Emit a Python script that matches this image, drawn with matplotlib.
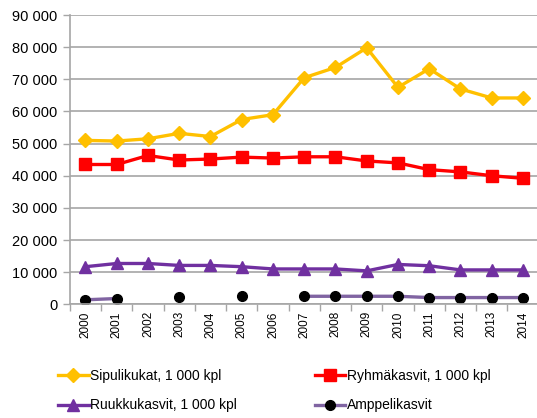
import numpy as np
import matplotlib.pyplot as plt

plt.rcParams['font.family'] = ['Liberation Sans', 'DejaVu Sans']

years = list(range(2000, 2015))
sipulikukat = [51000, 50800, 51500, 53200, 52200, 57500, 59000, 70500,
               73700, 79800, 67500, 73300, 67000, 64200, 64200]
ryhmakasvit = [43500, 43500, 46300, 44900, 45200, 45800, 45500, 45900,
               45900, 44600, 44000, 41900, 41200, 40000, 39200]
ruukkukasvit = [11700, 12700, 12700, 12100, 12100, 11700, 11000, 11000,
                11000, 10400, 12400, 12000, 10700, 10700, 10700]
amppelikasvit = [1400, 1800, np.nan, 2200, np.nan, 2600, np.nan, 2500,
                 2500, 2500, 2500, 2100, 2100, 2100, 2100]

fig = plt.figure(figsize=(5.37, 4.18), dpi=100)
ax = fig.add_axes([0.130, 0.272, 0.873, 0.692])

x = np.arange(len(years))
h1, = ax.plot(x, sipulikukat, color='#FFC000', lw=2.4, marker='D', ms=7,
              label='Sipulikukat, 1 000 kpl')
h2, = ax.plot(x, ryhmakasvit, color='#FF0000', lw=2.4, marker='s', ms=8,
              label='Ryhmäkasvit, 1 000 kpl')
h3, = ax.plot(x, ruukkukasvit, color='#7030A0', lw=2.4, marker='^', ms=8,
              label='Ruukkukasvit, 1 000 kpl')
h4, = ax.plot(x, amppelikasvit, color='#8064A2', lw=2.4, marker='o', ms=7,
              mfc='black', mec='black', label='Amppelikasvit')

ax.set_xlim(-0.5, len(years) - 0.5)
ax.set_ylim(0, 90000)
ax.set_yticks(range(0, 90001, 10000))
ax.set_yticklabels([f'{v:,}'.replace(',', ' ') for v in range(0, 90001, 10000)],
                   fontsize=10.5)
ax.yaxis.grid(True, color='#A6A6A6', lw=1.2)
ax.set_axisbelow(True)

# category labels centred, tick marks on the boundaries
ax.set_xticks(x)
ax.set_xticklabels([str(y) for y in years], rotation=90, fontsize=8.5)
ax.tick_params(axis='x', length=0, pad=5)
ax.set_xticks(np.arange(-0.5, len(years)), minor=True)
ax.tick_params(axis='x', which='minor', length=5, color='#A6A6A6', width=1)
ax.tick_params(axis='y', length=5, color='#A6A6A6', width=1, pad=4)

for s in ['top', 'right']:
    ax.spines[s].set_visible(False)
for s in ['left', 'bottom']:
    ax.spines[s].set_color('#A6A6A6')
    ax.spines[s].set_linewidth(1.2)

# legend fills column by column, so order handles to read row by row
handles = [h1, h3, h2, h4]
fig.legend(handles, [h.get_label() for h in handles],
           loc='lower left', bbox_to_anchor=(0.09, -0.01), ncol=2,
           frameon=False, fontsize=10, handlelength=2.2, handletextpad=0.1,
           columnspacing=5.6, labelspacing=1.1, borderaxespad=0.3)

fig.savefig('out.png', dpi=100)
